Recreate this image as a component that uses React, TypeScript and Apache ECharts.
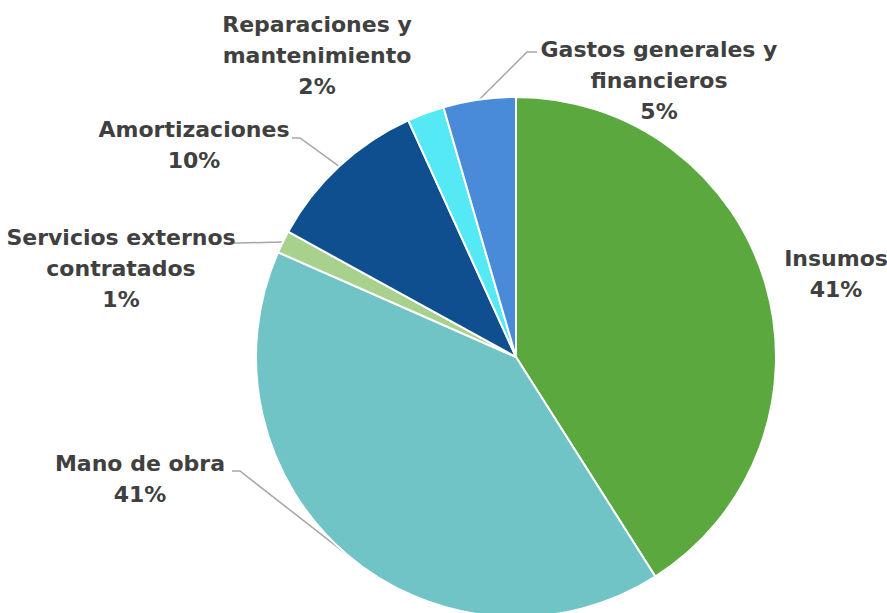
import React, { useEffect, useRef } from "react";
import * as echarts from "echarts";

const categories = [
  "Insumos",
  "Mano de obra",
  "Servicios externos\ncontratados",
  "Amortizaciones",
  "Reparaciones y\nmantenimiento",
  "Gastos generales y\nfinancieros",
];
const values = [41.0, 40.6, 1.4, 10.2, 2.3, 4.5];
const colors = ["#5ba83f", "#70c4c6", "#a9d18e", "#0f4f8f", "#55e9f5", "#4a8bd9"];

// label block centres (layout only)
const labelPos: [number, number][] = [
  [836, 274],
  [140, 479],
  [121, 268],
  [194, 145],
  [317, 55],
  [659, 80],
];
// elbow points of leader lines (layout only); null = no leader line
const lineElbows: ([number, number][] | null)[] = [
  null,
  [[240, 471], [232, 471]],
  [[240, 243], [233, 243]],
  [[300, 138], [292, 138]],
  null,
  [[527, 52], [537, 52]],
];

export default function App() {
  const ref = useRef<HTMLDivElement>(null);
  useEffect(() => {
    if (!ref.current) return;
    const chart = echarts.init(ref.current, null, { renderer: "svg" });
    chart.setOption({
      animation: false,
      backgroundColor: "#ffffff",
      series: [
        {
          type: "pie",
          center: [516, 357],
          radius: 260,
          startAngle: 90,
          clockwise: true,
          avoidLabelOverlap: false,
          percentPrecision: 0,
          silent: true,
          itemStyle: { borderColor: "#ffffff", borderWidth: 2 },
          label: {
            show: true,
            position: "outside",
            formatter: "{b}\n{d}%",
            fontFamily: "DejaVu Sans",
            fontWeight: "bold",
            fontSize: 22,
            lineHeight: 31,
            color: "#404040",
            align: "center",
          },
          labelLine: {
            show: true,
            length: 20,
            length2: 10,
            lineStyle: { color: "#a6a6a6", width: 1.5 },
          },
          labelLayout: (p: any) => {
            const pos = labelPos[p.dataIndex];
            const res: any = { x: pos[0], y: pos[1], align: "center", verticalAlign: "middle" };
            const el = lineElbows[p.dataIndex];
            if (el && p.labelLinePoints) {
              res.labelLinePoints = [p.labelLinePoints[0], el[0], el[1]];
            }
            return res;
          },
          data: categories.map((name, i) => ({
            name,
            value: values[i],
            itemStyle: { color: colors[i] },
            labelLine: { show: lineElbows[i] !== null },
          })),
        },
      ],
    });
    return () => chart.dispose();
  }, []);
  return (
    <div
      ref={ref}
      style={{ position: "absolute", left: 0, top: 0, width: 887, height: 613 }}
    />
  );
}
